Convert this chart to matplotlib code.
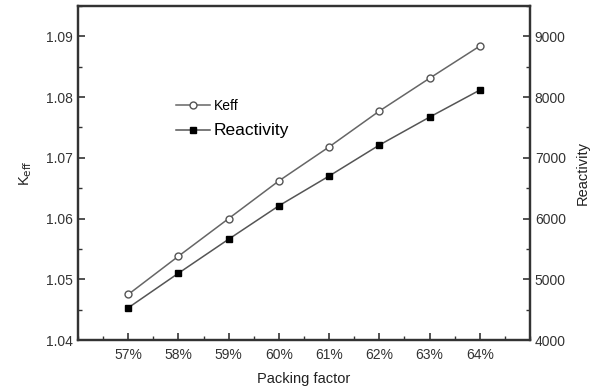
import matplotlib.pyplot as plt
from matplotlib.ticker import MultipleLocator

plt.rcParams['font.family'] = ['Liberation Sans', 'DejaVu Sans']

packing = [57, 58, 59, 60, 61, 62, 63, 64]
tick_labels = ['57%', '58%', '59%', '60%', '61%', '62%', '63%', '64%']
keff = [1.0475, 1.0538, 1.0600, 1.0662, 1.0718, 1.0777, 1.0831, 1.0884]
reactivity = [4530, 5100, 5660, 6210, 6700, 7210, 7670, 8115]

fig = plt.figure(figsize=(5.97, 3.88), dpi=100)
ax = fig.add_axes([78 / 597, 48 / 388, 452 / 597, 334 / 388])
ax2 = ax.twinx()

l1, = ax.plot(packing, keff, color='#666666', lw=1.1, marker='o', ms=5,
              mfc='white', mec='#555555', mew=1.0, label='Keff')
l2, = ax2.plot(packing, reactivity, color='#555555', lw=1.1, marker='s', ms=4.2,
               mfc='black', mec='black', label='Reactivity')

ax.set_xlim(56, 65)
ax.set_ylim(1.04, 1.095)
ax2.set_ylim(4000, 9500)

ax.set_xticks(packing)
ax.set_xticklabels(tick_labels)
ax.xaxis.set_minor_locator(MultipleLocator(0.5))
ax.set_yticks([1.04, 1.05, 1.06, 1.07, 1.08, 1.09])
ax.set_yticklabels(['1.04', '1.05', '1.06', '1.07', '1.08', '1.09'])
ax.yaxis.set_minor_locator(MultipleLocator(0.005))
ax2.set_yticks([4000, 5000, 6000, 7000, 8000, 9000])
ax2.yaxis.set_minor_locator(MultipleLocator(500))

for a in (ax, ax2):
    a.tick_params(which='major', direction='in', length=5, width=1.2,
                  labelsize=10, color='#333333', labelcolor='#333333')
    a.tick_params(which='minor', direction='in', length=3, width=1.0, color='#333333')
    for s in a.spines.values():
        s.set_linewidth(1.6)
        s.set_color('#333333')
ax.tick_params(axis='x', which='both', top=False, pad=6)

ax.set_xlabel('Packing factor', fontsize=10.5, color='#222222', labelpad=7)
ax.set_ylabel(r'K$_{\mathrm{eff}}$', fontsize=10.5, color='#222222', labelpad=9)
ax2.set_ylabel('Reactivity', fontsize=10.5, color='#222222', labelpad=7)

leg = ax.legend([l1, l2], ['Keff', 'Reactivity'], loc='upper left',
                bbox_to_anchor=(0.19, 0.76), frameon=False, handlelength=2.4,
                handletextpad=0.3, labelspacing=0.75, fontsize=10)
leg.get_texts()[1].set_fontsize(12.5)

fig.savefig('out.png', dpi=100)
